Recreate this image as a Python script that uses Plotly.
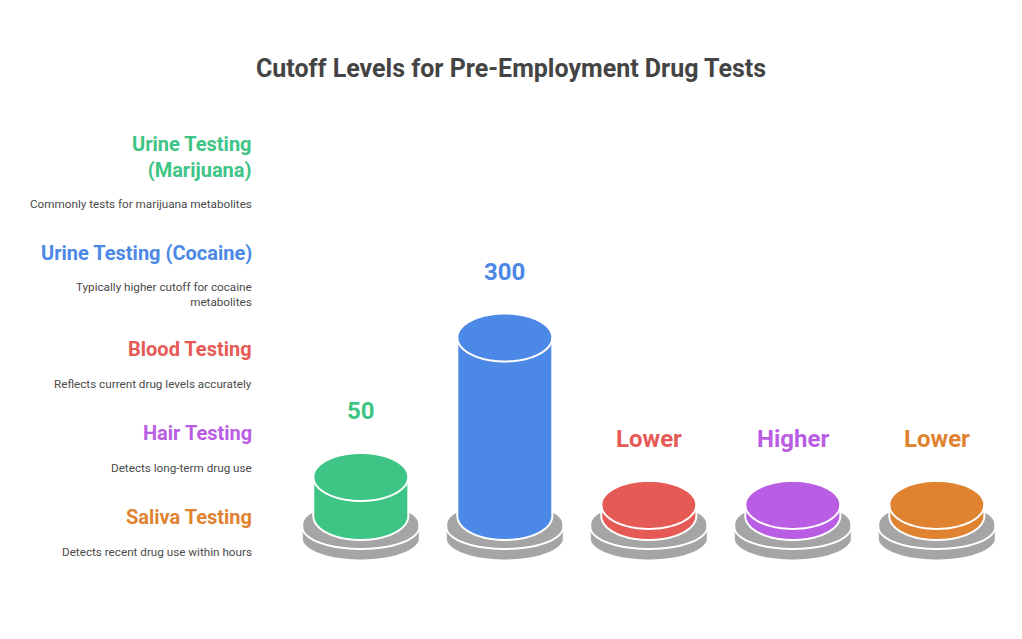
import numpy as np
import plotly.graph_objects as go

# ---------------- data ----------------
categories = ["Urine Testing (Marijuana)", "Urine Testing (Cocaine)", "Blood Testing",
              "Hair Testing", "Saliva Testing"]
heading_text = ["Urine Testing<br>(Marijuana)", "Urine Testing (Cocaine)", "Blood Testing",
                "Hair Testing", "Saliva Testing"]
descriptions = ["Commonly tests for marijuana metabolites",
                "Typically higher cutoff for cocaine<br>metabolites",
                "Reflects current drug levels accurately",
                "Detects long-term drug use",
                "Detects recent drug use within hours"]
value_labels = ["50", "300", "Lower", "Higher", "Lower"]
cutoff_values = [50, 300, 0, 0, 0]   # qualitative levels drawn as a minimal stub
colors = ["#3ec484", "#4c88e5", "#e55a55", "#b95ee4", "#e08330"]
title = "Cutoff Levels for Pre-Employment Drug Tests"

# ---------------- layout constants ----------------
W, H = 1022, 639
OFF = 8  # page offset compensation
PX_PER_X = 144.0
X0_PX = 360.8 - OFF
PX_PER_Y = 0.558
Y0_PX = 504.9 - OFF
x_range = [-X0_PX / PX_PER_X, (W - X0_PX) / PX_PER_X]
y_range = [(Y0_PX - H) / PX_PER_Y, Y0_PX / PX_PER_Y]

def dx(px):
    return px / PX_PER_X

def dy(px):
    return px / PX_PER_Y

def px_x(px):
    return (px - OFF) / W

def px_y(py):
    return 1 - (py - OFF) / H

BASE = -dy(11.1)
GREY = "#a5a5a5"
WHITE = "#ffffff"

def cyl_path(xc, yb, yt, rx, ry, n=72):
    t1 = np.linspace(np.pi, 0, n)
    pts = [(xc + rx * np.cos(t), yt + ry * np.sin(t)) for t in t1]
    t2 = np.linspace(0, -np.pi, n)
    pts += [(xc + rx * np.cos(t), yb + ry * np.sin(t)) for t in t2]
    return "M " + " L ".join(f"{x:.5f},{y:.4f}" for x, y in pts) + " Z"

def arc_path(xc, yc, rx, ry, n=72):
    t = np.linspace(-np.pi, 0, n)
    pts = [(xc + rx * np.cos(a), yc + ry * np.sin(a)) for a in t]
    return "M " + " L ".join(f"{x:.5f},{y:.4f}" for x, y in pts)

fig = go.Figure()
fig.add_trace(go.Scatter(x=list(range(len(categories))), y=cutoff_values, mode="markers",
                         marker=dict(opacity=0), hoverinfo="skip", showlegend=False))

shapes = []
annotations = []
for i, (val, col, lab) in enumerate(zip(cutoff_values, colors, value_labels)):
    # lower grey disk
    shapes.append(dict(type="path", xref="x", yref="y",
                       path=cyl_path(i, BASE - dy(22.5), BASE - dy(12), dx(59), dy(22)),
                       fillcolor=GREY, line=dict(color=WHITE, width=2)))
    # upper grey disk
    shapes.append(dict(type="path", xref="x", yref="y",
                       path=cyl_path(i, BASE - dy(11), BASE - dy(8), dx(58.5), dy(22)),
                       fillcolor=GREY, line=dict(color=WHITE, width=2)))
    # coloured cylinder
    shapes.append(dict(type="path", xref="x", yref="y",
                       path=cyl_path(i, BASE, val, dx(47.5), dy(24)),
                       fillcolor=col, line=dict(color=WHITE, width=2)))
    # rim line on top
    shapes.append(dict(type="path", xref="x", yref="y",
                       path=arc_path(i, val, dx(47.5), dy(24)),
                       line=dict(color=WHITE, width=2)))
    annotations.append(dict(x=i, y=val + dy(66), xref="x", yref="y", text=f"<b>{lab}</b>",
                            showarrow=False, xanchor="center", yanchor="middle",
                            font=dict(family="Roboto", size=24, color=col)))

# left side texts
head_y = [157, 253, 349, 433, 517]
desc_y = [204, 294, 384, 468, 552]
for hy, dyy, ht, ds, col in zip(head_y, desc_y, heading_text, descriptions, colors):
    annotations.append(dict(x=px_x(254), y=px_y(hy), xref="paper", yref="paper",
                            text=f"<b>{ht}</b>", showarrow=False, xanchor="right",
                            yanchor="middle", align="right",
                            font=dict(family="Roboto", size=20, color=col)))
    annotations.append(dict(x=px_x(254), y=px_y(dyy), xref="paper", yref="paper",
                            text=ds, showarrow=False, xanchor="right",
                            yanchor="middle", align="right",
                            font=dict(family="Roboto", size=11.7, color="#4a4a4a")))

annotations.append(dict(x=px_x(511), y=px_y(68), xref="paper", yref="paper",
                        text=f"<b>{title}</b>", showarrow=False, xanchor="center",
                        yanchor="middle", font=dict(family="Roboto", size=25, color="#444444")))

fig.update_layout(
    width=W, height=H, margin=dict(l=0, r=0, t=0, b=0),
    paper_bgcolor="white", plot_bgcolor="white",
    xaxis=dict(range=x_range, visible=False, fixedrange=True),
    yaxis=dict(range=y_range, visible=False, fixedrange=True),
    shapes=shapes, annotations=annotations, showlegend=False,
)
fig.write_html("out.html")
